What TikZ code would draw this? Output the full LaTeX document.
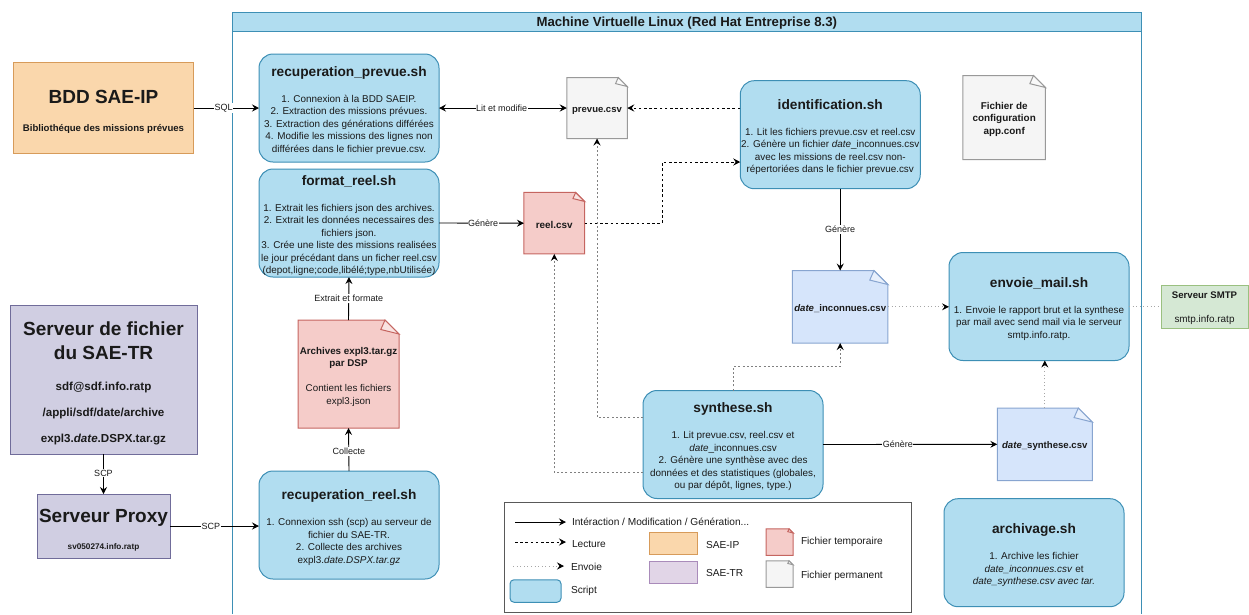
\documentclass[tikz,border=0pt]{standalone}
\usepackage{fontspec}
\setmainfont{Liberation Sans}
\usetikzlibrary{arrows.meta}
\makeatletter
\def\docfold{14}
\pgfkeys{/tikz/fold size/.code={\edef\docfold{#1}}}
\pgfdeclareshape{docnote}{
  \inheritsavedanchors[from=rectangle]
  \inheritanchorborder[from=rectangle]
  \inheritanchor[from=rectangle]{center}
  \inheritanchor[from=rectangle]{mid}
  \inheritanchor[from=rectangle]{base}
  \inheritanchor[from=rectangle]{north}
  \inheritanchor[from=rectangle]{south}
  \inheritanchor[from=rectangle]{east}
  \inheritanchor[from=rectangle]{west}
  \inheritanchor[from=rectangle]{north east}
  \inheritanchor[from=rectangle]{north west}
  \inheritanchor[from=rectangle]{south east}
  \inheritanchor[from=rectangle]{south west}
  \backgroundpath{
    \southwest \pgf@xa=\pgf@x \pgf@ya=\pgf@y
    \northeast \pgf@xb=\pgf@x \pgf@yb=\pgf@y
    \pgfpathmoveto{\pgfqpoint{\pgf@xa}{\pgf@ya}}
    \pgfpathlineto{\pgfqpoint{\pgf@xa}{\pgf@yb}}
    \pgfpathlineto{\pgfpoint{\pgf@xb-\docfold pt}{\pgf@yb}}
    \pgfpathlineto{\pgfpoint{\pgf@xb}{\pgf@yb-\docfold pt}}
    \pgfpathlineto{\pgfqpoint{\pgf@xb}{\pgf@ya}}
    \pgfpathclose
  }
  \foregroundpath{
    \northeast \pgf@xb=\pgf@x \pgf@yb=\pgf@y
    \pgfsetfillopacity{0.45}
    \pgfsetfillcolor{white}
    \pgfpathmoveto{\pgfpoint{\pgf@xb-\docfold pt}{\pgf@yb}}
    \pgfpathlineto{\pgfpoint{\pgf@xb-1.3*\docfold pt}{\pgf@yb-0.68*\docfold pt}}
    \pgfpathlineto{\pgfpoint{\pgf@xb}{\pgf@yb-\docfold pt}}
    \pgfpathclose
    \pgfusepath{fill,stroke}
  }
}
\makeatother
\definecolor{scfill}{HTML}{B1DDF0}\definecolor{scline}{HTML}{3D8FB5}
\definecolor{orfill}{HTML}{FAD7AC}\definecolor{orline}{HTML}{D79B5A}
\definecolor{svfill}{HTML}{D0CEE2}\definecolor{svline}{HTML}{706C9A}
\definecolor{rdfill}{HTML}{F5CCC9}\definecolor{rdline}{HTML}{C56560}
\definecolor{gyfill}{HTML}{F5F5F5}\definecolor{gyline}{HTML}{999999}
\definecolor{blfill}{HTML}{D6E5FB}\definecolor{blline}{HTML}{88A5D0}
\definecolor{grfill}{HTML}{D5E8D4}\definecolor{grline}{HTML}{9AC080}
\definecolor{pufill}{HTML}{E1D5E7}\definecolor{puline}{HTML}{A98BBA}
\definecolor{txt}{HTML}{1A1A1A}
\newcommand\bodyfont{\fontsize{9.9}{12.5}\selectfont}
\newcommand\titfont{\fontsize{13.7}{16}\selectfont\bfseries}
\newcommand\bigt[1]{{\fontsize{19}{22}\selectfont\bfseries #1}}
\newcommand\dn[1]{\rule{0pt}{#1pt}}
\newcommand\script[2]{\dn{15}{\titfont #1}\\[13.5pt]#2}
\tikzset{
  x=1pt,y=-1pt,
  every node/.style={inner sep=0pt,outer sep=0pt,text=txt},
  box/.style={line width=1pt,align=center,font=\bodyfont},
  scriptbox/.style={box,rectangle,rounded corners=14pt,draw=scline,fill=scfill,minimum width=180pt,minimum height=108pt},
  orbox/.style={box,draw=orline,fill=orfill},
  svbox/.style={box,draw=svline,fill=svfill},
  grbox/.style={box,draw=grline,fill=grfill},
  pubox/.style={box,draw=puline,fill=pufill},
  reddoc/.style={box,shape=docnote,draw=rdline,fill=rdfill},
  graydoc/.style={box,shape=docnote,draw=gyline,fill=gyfill},
  bluedoc/.style={box,shape=docnote,draw=blline,fill=blfill},
  flow/.style={line width=.9pt,draw=black,-{Stealth[length=7pt,width=7pt,inset=2.5pt]}},
  readl/.style={flow,dash pattern=on 2.6pt off 2.6pt},
  synthl/.style={line width=1pt,draw=gray,dash pattern=on 2pt off 2.2pt,-{Stealth[length=7pt,width=7pt,inset=2.5pt,black]}},
  sendl/.style={line width=.9pt,draw=gray!70,dash pattern=on 1pt off 2.6pt,-{Stealth[length=7pt,width=7pt,inset=2.5pt,black]}},
  lbl/.style={font=\fontsize{9}{10}\selectfont,fill=white,inner xsep=.5pt,inner ysep=1pt},
  leg/.style={font=\fontsize{10.15}{12.5}\selectfont,anchor=west},
}
\begin{document}
\begin{tikzpicture}
\useasboundingbox (0,0) rectangle (1249,614);
% frame
\draw[line width=1pt,draw=scline] (232.5,614) -- (232.5,12.5) -- (1141,12.5) -- (1141,614);
\node[draw=scline,fill=scfill,line width=1pt,minimum width=908.5pt,minimum height=19pt,font=\fontsize{13.2}{15}\selectfont\bfseries] (title) at (686.75,22) {\dn{12.6}Machine Virtuelle Linux (Red Hat Entreprise 8.3)};
% left servers
\node[orbox,minimum width=180pt,minimum height=91.5pt] (bdd) at (103.5,108.2) {\dn{19.6}\bigt{BDD SAE-IP}\\[15.5pt]{\bfseries\fontsize{9.6}{12}\selectfont Bibliothéque des missions prévues}};
\node[svbox,minimum width=187pt,minimum height=149pt,font=\fontsize{11.6}{24.5}\selectfont\bfseries] (fichier) at (103.5,379.5) {\dn{21}\bigt{Serveur de fichier}\\\bigt{du SAE-TR}\\[5.7pt]sdf@sdf.info.ratp\\[1.5pt]/appli/sdf/date/archive\\[1.5pt]expl3.\textit{date}.DSPX.tar.gz};
\node[svbox,minimum width=133pt,minimum height=64pt] (proxy) at (103.5,526) {\dn{21.7}\bigt{Serveur Proxy}\\[15.2pt]{\fontsize{8.2}{10}\selectfont\bfseries sv050274.info.ratp}};
\node[grbox,minimum width=87pt,minimum height=43pt] (smtp) at (1204.5,306.5) {\dn{10}{\bfseries\fontsize{9.6}{12}\selectfont Serveur SMTP}\\[11.5pt]smtp.info.ratp};
% scripts
\node[scriptbox] (rprev) at (349,108) {\script{recuperation\_prevue.sh}{1. Connexion à la BDD SAEIP.\\2. Extraction des missions prévues.\\3. Extraction des générations différées\\4. Modifie les missions des lignes non\\différées dans le fichier prevue.csv.}};
\node[scriptbox] (freel) at (349,223) {\script{format\_reel.sh}{1. Extrait les fichiers json des archives.\\2. Extrait les données necessaires des\\fichiers json.\\3. Crée une liste des missions realisées\\le jour précédant dans un ficher reel.csv\\(depot,ligne;code,libélé;type,nbUtilisée)}};
\node[scriptbox] (rreel) at (349,525) {\script{recuperation\_reel.sh}{1. Connexion ssh (scp) au serveur de\\fichier du SAE-TR.\\2. Collecte des archives\\expl3.\textit{date.DSPX.tar.gz}}};
\node[scriptbox] (ident) at (830.25,134.7) {\script{identification.sh}{1. Lit les fichiers prevue.csv et reel.csv\\2. Génère un fichier \textit{date}\_inconnues.csv\\avec les missions de reel.csv non-\\répertoriées dans le fichier prevue.csv}};
\node[scriptbox] (mail) at (1039,306.5) {\script{envoie\_mail.sh}{1. Envoie le rapport brut et la synthese\\par mail avec send mail via le serveur\\smtp.info.ratp.}};
\node[scriptbox] (synth) at (733,444.5) {\script{synthese.sh}{1. Lit prevue.csv, reel.csv et\\\textit{date}\_inconnues.csv\\2. Génère une synthèse avec des\\données et des statistiques (globales,\\ou par dépôt, lignes, type.)}};
\node[scriptbox] (arch) at (1034,552.7) {\script{archivage.sh}{1. Archive les fichier\\\textit{date\_inconnues.csv} et\\\textit{date\_synthese.csv avec tar.}}};
% documents
\node[reddoc,fold size=14,minimum width=101pt,minimum height=108pt,font=\fontsize{9.8}{12.5}\selectfont] (archdoc) at (348.5,374) {\dn{13}\textbf{Archives expl3.tar.gz}\\\textbf{par DSP}\\[12.5pt]Contient les fichiers\\expl3.json};
\node[graydoc,fold size=9,minimum width=60.5pt,minimum height=61pt,font=\fontsize{9.5}{12.5}\selectfont] (prevue) at (597,108) {\dn{11}\textbf{prevue.csv}};
\node[reddoc,fold size=9,minimum width=60.7pt,minimum height=61.5pt] (reel) at (554.3,223.2) {\dn{10}\textbf{reel.csv}};
\node[graydoc,fold size=12,minimum width=82.5pt,minimum height=84pt,font=\fontsize{9.9}{12.5}\selectfont] (conf) at (1004.2,117.5) {\dn{11}\textbf{Fichier de}\\\textbf{configuration}\\\textbf{app.conf}};
\node[bluedoc,fold size=14,minimum width=95.5pt,minimum height=72.5pt,font=\fontsize{9.6}{12.5}\selectfont] (inconnues) at (840.2,306.8) {\dn{11}\textbf{\textit{date}\_inconnues.csv}};
\node[bluedoc,fold size=14,minimum width=95pt,minimum height=72.5pt,font=\fontsize{9.6}{12.5}\selectfont] (dsynth) at (1044.8,444.3) {\dn{11}\textbf{\textit{date}\_synthese.csv}};
% connectors
\draw[flow] (bdd.east |- rprev.east) -- node[lbl,pos=.46]{SQL} (rprev.west);
\draw[flow,{Stealth[length=7pt,width=7pt,inset=2.5pt]}-{Stealth[length=7pt,width=7pt,inset=2.5pt]}] (rprev.east) -- node[lbl,pos=.49]{Lit et modifie} (prevue.west);
\draw[readl] (ident.west |- prevue.east) -- (prevue.east);
\draw[flow] (freel.east) -- node[lbl,pos=.52]{Génère} (reel.west);
\draw[readl] (reel.east) -- (662.5,223.2) -- (662.5,162) -- (ident.west |- 0,162);
\draw[flow] (inconnues.north |- ident.south) -- node[lbl,pos=.5]{Génère} (inconnues.north);
\draw[synthl] (synth.west |- 0,417) -- (prevue.south |- 0,417) -- (prevue.south);
\draw[synthl] (synth.west |- 0,472) -- (reel.south |- 0,472) -- (reel.south);
\draw[synthl] (synth.north) -- (733,366.5) -- (840.2,366.5) -- (inconnues.south);
\draw[flow] (synth.east) -- node[lbl,pos=.43]{Génère} (dsynth.west);
\draw[sendl] (inconnues.east) -- (mail.west |- inconnues.east);
\draw[sendl,-] (mail.east |- smtp.west) -- (smtp.west);
\draw[sendl] (dsynth.north) -- (dsynth.north |- mail.south);
\draw[flow] (archdoc.north) -- node[lbl,pos=.5]{Extrait et formate} (freel.south);
\draw[flow] (rreel.north) -- node[lbl,pos=.45]{Collecte} (archdoc.south);
\draw[flow] (fichier.south) -- node[lbl,pos=.48]{SCP} (proxy.north);
\draw[flow] (proxy.east) -- node[lbl,pos=.46]{SCP} (rreel.west |- proxy.east);
% legend
\node[draw=black!65,line width=1pt,minimum width=407pt,minimum height=110.5pt] (legend) at (708,557.7) {};
\coordinate (la1) at (515,522); \coordinate (la2) at (566,522);
\coordinate (lb1) at (515,542); \coordinate (lb2) at (566,542);
\coordinate (lc1) at (513,566); \coordinate (lc2) at (564,566);
\draw[flow] (la1) -- (la2);
\draw[readl] (lb1) -- (lb2);
\draw[sendl] (lc1) -- (lc2);
\node[leg] (t1) at (572,521.5) {Intéraction / Modification / Génération...};
\node[leg] (t2) at (572,544.5) {Lecture};
\node[leg] (t3) at (571,567) {Envoie};
\node[box,rectangle,rounded corners=4pt,draw=scline,fill=scfill,minimum width=51pt,minimum height=22.5pt] (k1) at (535.5,591) {};
\node[leg] (t4) at (571,590.5) {Script};
\node[orbox,minimum width=48pt,minimum height=22pt] (k2) at (673,543.5) {};
\node[leg] (t5) at (706,544.5) {SAE-IP};
\node[pubox,minimum width=48pt,minimum height=22pt] (k3) at (673,572) {};
\node[leg] (t6) at (706,573) {SAE-TR};
\node[reddoc,fold size=4,minimum width=27pt,minimum height=26.5pt] (k4) at (779.5,542.2) {};
\node[leg] (t7) at (801,542) {Fichier temporaire};
\node[graydoc,fold size=4,minimum width=27pt,minimum height=26.5pt] (k5) at (779.5,574) {};
\node[leg] (t8) at (801,575.5) {Fichier permanent};
\end{tikzpicture}
\end{document}
